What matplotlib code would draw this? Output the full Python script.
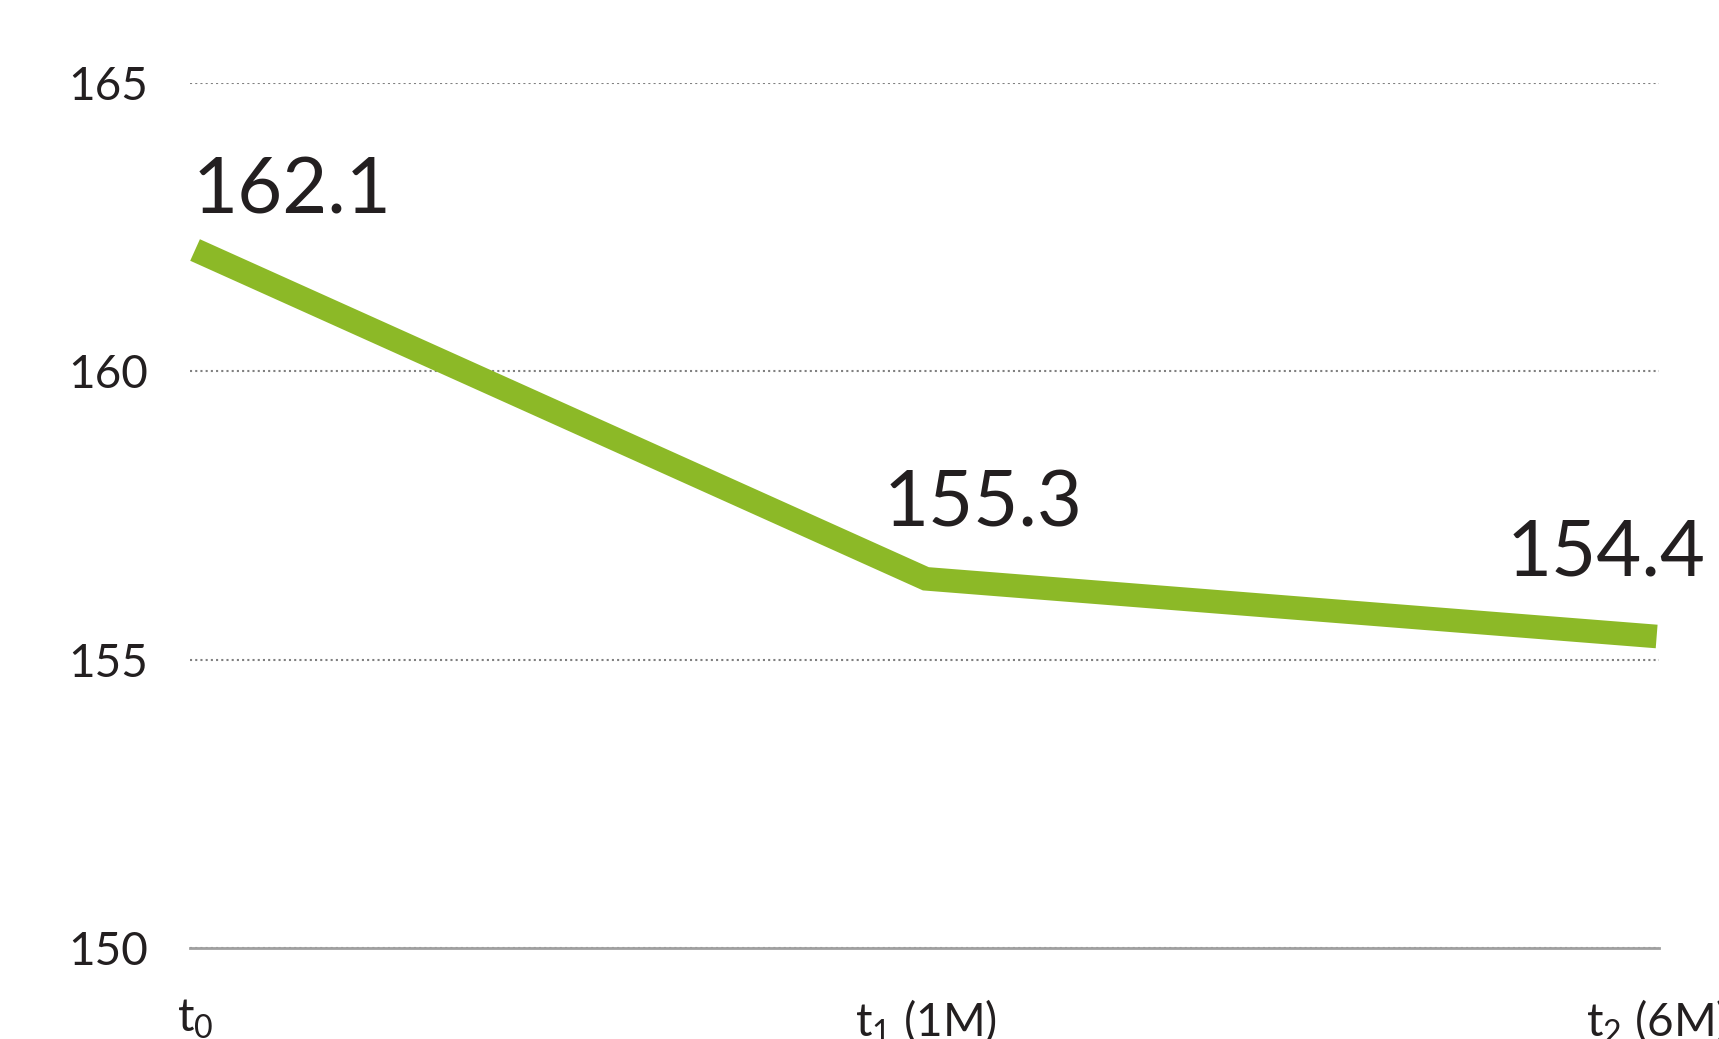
import matplotlib
matplotlib.use("Agg")
import matplotlib.pyplot as plt

# Data
periods = ["t$_0$", "t$_1$ (1M)", "t$_2$ (6M)"]
line_values = [162.1, 156.4, 155.4]      # where the green line sits
value_labels = ["162.1", "155.3", "154.4"]  # printed numbers
y_ticks = [150, 155, 160, 165]

# label offsets in pixels from each point (dx, dy)
label_offsets = [(-2, 36), (-42, 52), (-150, 61)]

plt.rcParams["font.family"] = ["Lato", "DejaVu Sans"]
plt.rcParams["mathtext.default"] = "regular"

text_color = "#231f20"
green = "#8cb927"

fig = plt.figure(figsize=(17.19, 10.39), dpi=100)
ax = fig.add_axes([0.1105, 0.0876, 0.8545, 0.8328])

x = list(range(len(periods)))
ax.plot(x, line_values, color=green, lw=17, solid_capstyle="butt",
        solid_joinstyle="miter", clip_on=False, zorder=3)

for xi, yi, lab, (dx, dy) in zip(x, line_values, value_labels, label_offsets):
    ax.annotate(lab, xy=(xi, yi), xytext=(dx, dy), textcoords="offset pixels",
                ha="left", va="baseline", fontsize=56, color=text_color,
                annotation_clip=False)

ax.set_xlim(-0.007, 2.003)
ax.set_ylim(150, 165)
ax.set_yticks(y_ticks)
ax.set_xticks(x)
ax.set_xticklabels(periods)

ax.yaxis.grid(True, color="#808080", lw=1.5, ls=(0, (1, 1.5)))
ax.set_axisbelow(True)
for side in ["top", "right", "left"]:
    ax.spines[side].set_visible(False)
ax.spines["bottom"].set_color("#a0a0a0")
ax.spines["bottom"].set_linewidth(2)
ax.spines["bottom"].set_zorder(2)

ax.tick_params(axis="y", length=0, pad=30, labelsize=33, labelcolor=text_color)
ax.tick_params(axis="x", length=0, pad=36, labelsize=33, labelcolor=text_color)

fig.savefig("out.png", dpi=100)
